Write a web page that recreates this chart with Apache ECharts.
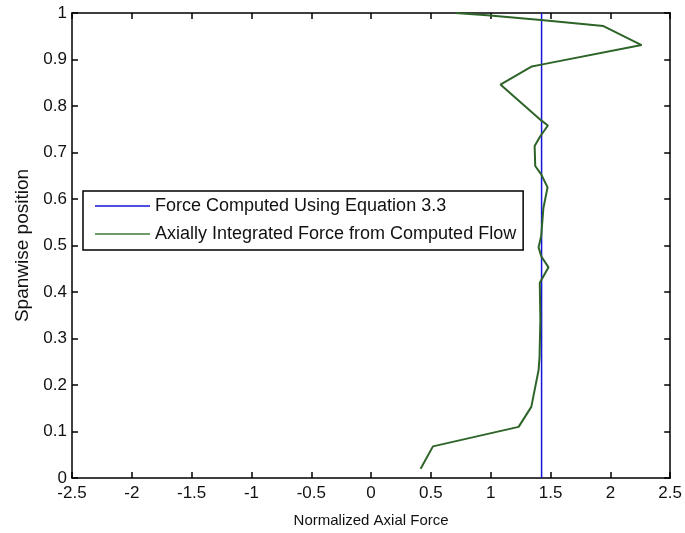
<!DOCTYPE html>
<html>
<head>
<meta charset="utf-8">
<script src="https://cdn.jsdelivr.net/npm/echarts@6/dist/echarts.min.js"></script>
<style>
html,body{margin:0;padding:0;background:#fff;}
#c{width:685px;height:533px;}
</style>
</head>
<body>
<div id="c"></div>
<script>
// Data
const seriesNames = ['Force Computed Using Equation 3.3', 'Axially Integrated Force from Computed Flow'];
const equationForce = [1.425, 1.425];
const equationSpan = [0, 1];
const flowForce = [0.414, 0.517, 1.233, 1.339, 1.400, 1.408, 1.415, 1.410, 1.483, 1.422, 1.400, 1.422, 1.440, 1.475, 1.422, 1.372, 1.367, 1.414, 1.478, 1.422, 1.081, 1.344, 1.422, 2.261, 1.942, 1.420, 0.970, 0.706];
const flowSpan  = [0.020, 0.068, 0.110, 0.153, 0.232, 0.260, 0.340, 0.420, 0.453, 0.477, 0.496, 0.521, 0.580, 0.625, 0.653, 0.671, 0.714, 0.735, 0.758, 0.769, 0.846, 0.885, 0.889, 0.931, 0.972, 0.985, 0.995, 1.000];
const xTicks = [-2.5, 2.5, 0.5];
const yTicks = [0, 1, 0.1];

const font = 'Liberation Sans, Arial, sans-serif';
const chart = echarts.init(document.getElementById('c'), null, {renderer: 'canvas'});

const pairs = (xs, ys) => xs.map((x, i) => [x, ys[i]]);
const baseAxisLine = {show: true, onZero: false, lineStyle: {color: '#000', width: 1.5}};
const tick = {show: true, inside: true, length: 6, lineStyle: {color: '#000', width: 1.5}};

chart.setOption({
  animation: false,
  backgroundColor: '#fff',
  grid: {left: 72, right: 13, top: 13, bottom: 53, containLabel: false},
  legend: {
    orient: 'vertical',
    left: 83, top: 191,
    padding: [6, 7, 7, 12],
    itemGap: 10,
    icon: 'rect',
    itemWidth: 55, itemHeight: 1.5,
    borderColor: '#000', borderWidth: 1.5,
    backgroundColor: '#fff',
    textStyle: {fontFamily: font, fontSize: 18, color: '#111', lineHeight: 18},
    data: seriesNames
  },
  xAxis: [{
    type: 'value', min: xTicks[0], max: xTicks[1], interval: xTicks[2],
    name: 'Normalized Axial Force', nameLocation: 'middle', nameGap: 35,
    nameTextStyle: {fontFamily: font, fontSize: 15, color: '#111'},
    axisLine: baseAxisLine, axisTick: tick, splitLine: {show: false},
    axisLabel: {fontFamily: font, fontSize: 17, color: '#111', margin: 7}
  }, {
    type: 'value', position: 'top', min: xTicks[0], max: xTicks[1], interval: xTicks[2],
    axisLine: baseAxisLine, axisTick: tick, splitLine: {show: false}, axisLabel: {show: false}
  }],
  yAxis: [{
    type: 'value', min: yTicks[0], max: yTicks[1], interval: yTicks[2],
    name: 'Spanwise position', nameLocation: 'middle', nameGap: 40,
    nameTextStyle: {fontFamily: font, fontSize: 19, color: '#111'},
    axisLine: baseAxisLine, axisTick: tick, splitLine: {show: false},
    axisLabel: {fontFamily: font, fontSize: 17, color: '#111', margin: 5}
  }, {
    type: 'value', position: 'right', min: yTicks[0], max: yTicks[1], interval: yTicks[2],
    axisLine: baseAxisLine, axisTick: tick, splitLine: {show: false}, axisLabel: {show: false}
  }],
  series: [{
    name: seriesNames[0], type: 'line', symbol: 'none',
    data: pairs(equationForce, equationSpan),
    lineStyle: {color: '#1515d8', width: 1.5}, itemStyle: {color: '#1515d8'}
  }, {
    name: seriesNames[1], type: 'line', symbol: 'none',
    data: pairs(flowForce, flowSpan),
    lineStyle: {color: '#2d6428', width: 2}, itemStyle: {color: '#3d7a34'}
  }]
});
</script>
</body>
</html>
